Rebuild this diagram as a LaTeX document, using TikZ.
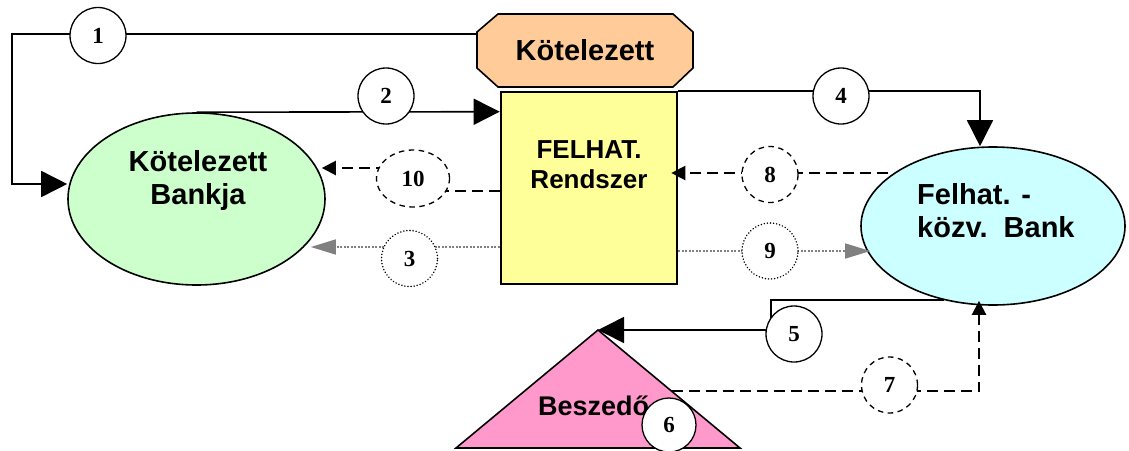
\documentclass[tikz,border=0pt]{standalone}
\usepackage{fontspec}
\setmainfont{Liberation Sans}
\newfontfamily\numfont{Liberation Serif}
\usetikzlibrary{arrows.meta,shapes.geometric,calc}
\definecolor{octfill}{HTML}{FFCC99}
\definecolor{rsfill}{HTML}{FFFF99}
\definecolor{gbfill}{HTML}{CCFFCC}
\definecolor{fbfill}{HTML}{CCFFFF}
\definecolor{trifill}{HTML}{FF99CC}
\definecolor{arrgray}{HTML}{808080}
\begin{document}
\begin{tikzpicture}[x=1pt,y=-1pt,
  bigtip/.style={-{Triangle[length=26pt,width=26pt]}},
  smalltip/.style={-{Triangle[length=14pt,width=14pt]}},
  graytip/.style={-{Triangle[length=25pt,width=15pt]}},
  conn/.style={line width=1.6pt},
  dashconn/.style={line width=2.2pt, dash pattern=on 11pt off 6pt},
  dotconn/.style={draw=arrgray, line width=1.5pt, dash pattern=on 2pt off 1.5pt},
  numc/.style={ellipse, draw, fill=white, line width=1.3pt, inner sep=0pt,
    minimum width=56pt, minimum height=56pt,
    font=\numfont\bfseries\fontsize{23}{23}\selectfont},
  dashc/.style={numc, dash pattern=on 5.5pt off 4.5pt},
  dotc/.style={numc, line width=1.6pt, dash pattern=on 0.1pt off 3pt, line cap=round},
  shapetext/.style={font=\bfseries\fontsize{29}{33}\selectfont, inner sep=0pt},
  bigshape/.style={draw, line width=1.6pt, inner sep=0pt},
]
\useasboundingbox (0,0) rectangle (1129,450);

% ---- shapes ----
\node[bigshape, ellipse, fill=gbfill, minimum width=257pt, minimum height=172pt] (gb) at (196.5,199) {};
\node[shapetext, align=center] (gbt) at (198,180.75) {Kötelezett\\Bankja};

\node[bigshape, ellipse, fill=fbfill, minimum width=264pt, minimum height=158pt] (fb) at (993,226) {};
\node[shapetext, align=left, anchor=west] (fbt) at (917,210.5) {Felhat. -\\közv.\ \ Bank};

\node[bigshape, line width=2.6pt, fill=rsfill, minimum width=176pt, minimum height=192pt] (rs) at (589,188) {};
\node[font=\bfseries\fontsize{26}{30}\selectfont, align=center, inner sep=0pt] (rst) at (589,164.7) {FELHAT.\\Rendszer};

\draw[line width=1.6pt, fill=octfill] (477,32) -- (498,14) -- (673,14) -- (693,32) -- (693,68) -- (673,87) -- (498,87) -- (477,68) -- cycle;
\node[shapetext, minimum width=216pt, minimum height=73pt] (kot) at (585,50.5) {Kötelezett};

\coordinate (apex) at (598,330);
\coordinate (tbr) at (740,448);
\coordinate (tbl) at (456,448);
\draw[line width=1.6pt, fill=trifill] (apex) -- (tbr) -- (tbl) -- cycle;
\node[font=\bfseries\fontsize{27}{30}\selectfont, inner sep=0pt, anchor=base west] (bsz) at (538,415) {Beszedő};
\coordinate (t7) at ($(apex)!0.52!(tbr)$);

% ---- circle centres ----
\coordinate (p10) at (413,178.5);

% ---- connectors ----
\draw[conn, bigtip] ($(kot.west)+(0,-16.5)$) -- ++(-465,0) |- ($(gb.west)+(0,-15)$);
\draw[conn, bigtip] (gb.north) -- ($(rs.north west)+(0,21)$);
\draw[conn, bigtip] (rs.north east) -| ($(fb.north)+(-13,0)$);
\draw[conn, bigtip] ($(fb.south)+(-49,-6)$) -- ++(-173,0) |- (apex);
\draw[dashconn, smalltip] (t7) -| ($(fb.south)+(-14,-5)$);
\draw[dashconn, smalltip] ($(fb.west)+(28,-53)$) -- ($(rs.east)+(-7,-15)$);
\draw[dashconn, smalltip] ($(rs.west)+(0,3)$) -| (p10) |- ($(gb.east)+(-4,-31)$);
\draw[dotconn, graytip] ($(rs.west)+(0,59)$) -- ($(gb.east)+(-15,48)$);
\draw[dotconn, graytip] ($(rs.east)+(0,63)$) -- ($(fb.west)+(10,25)$);

% ---- numbered circles ----
\node[numc] (n1) at (98,35.5) {1};
\node[numc] (n2) at (386,96) {2};
\node[numc] (n4) at (841,96) {4};
\node[numc] (n5) at (794,334) {5};
\node[numc, minimum width=54pt, minimum height=54pt] (n6) at (669,425) {6};
\node[dashc, minimum width=73pt, minimum height=57pt] (n10) at (p10) {10};
\node[dashc] (n8) at (770,174.5) {8};
\node[dashc] (n7) at (889.5,385) {7};
\node[dotc] (n3) at (409.5,258.5) {3};
\node[dotc] (n9) at (770,251) {9};
\end{tikzpicture}
\end{document}
